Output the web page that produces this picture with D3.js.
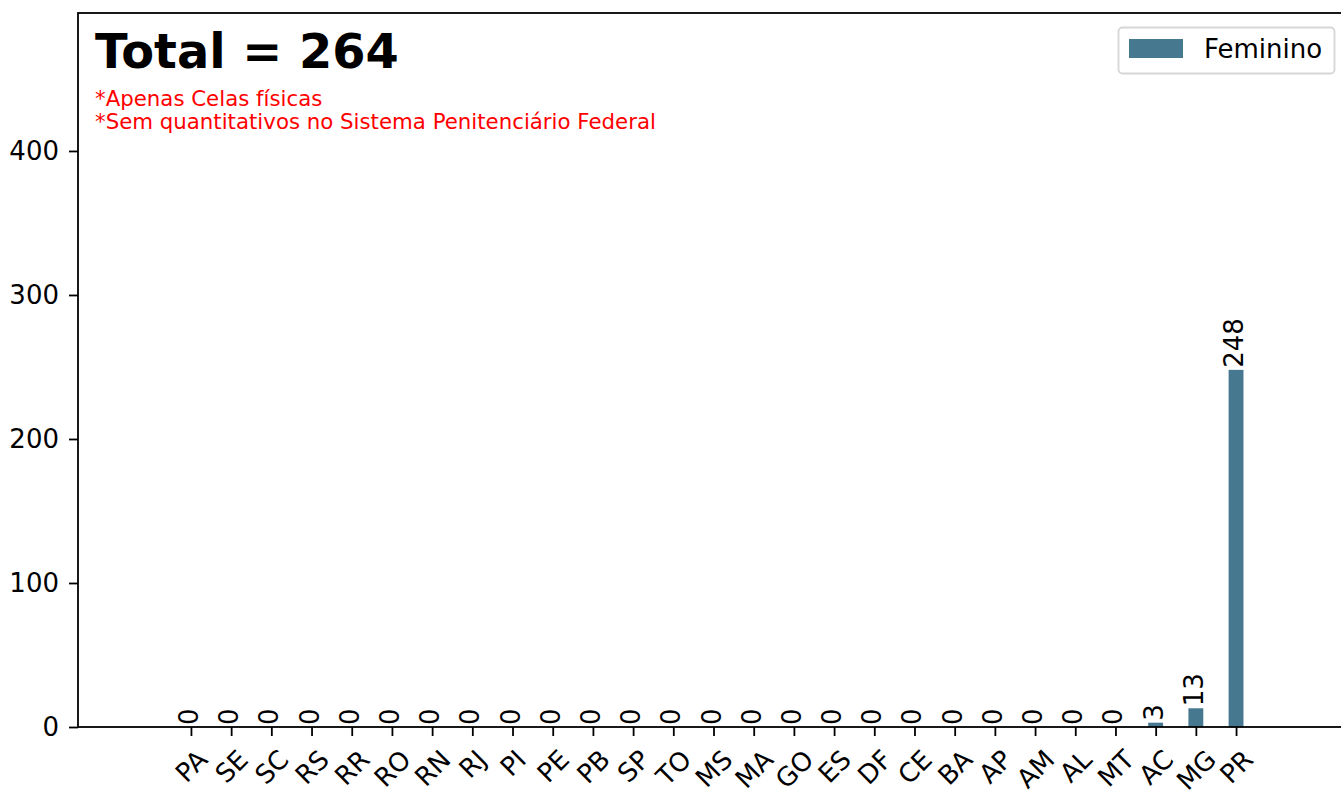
<!DOCTYPE html>
<html>
<head>
<meta charset="utf-8">
<script src="https://cdn.jsdelivr.net/npm/d3@7"></script>
<style>
  body { margin: 0; background: #fff; }
  svg { display: block; font-family: "DejaVu Sans", sans-serif; }
</style>
</head>
<body>
<div id="graphicContainer"></div>
<script>

// chart values
const estados = ["PA", "SE", "SC", "RS", "RR", "RO", "RN", "RJ", "PI", "PE", "PB", "SP", "TO", "MS",
                 "MA", "GO", "ES", "DF", "CE", "BA", "AP", "AM", "AL", "MT", "AC", "MG", "PR"]
const feminino = [0, 0, 0, 0, 0, 0, 0, 0, 0, 0, 0, 0, 0, 0, 0, 0, 0, 0, 0, 0, 0, 0, 0, 0, 3, 13, 248]
const yTicks = [0, 100, 200, 300, 400]
const serieNome = "Feminino"
const totalTexto = "Total = " + d3.sum(feminino)
const notas = ["*Apenas Celas físicas", "*Sem quantitativos no Sistema Penitenciário Federal"]

const width = 1341
const height = 790
const margin = { left: 78, top: 13, right: 1349, bottom: 727 }
const barColor = "#467890"
const fontSize = 26

const svg = d3.select("#graphicContainer").append("svg")
  .attr("width", width)
  .attr("height", height)

const x = d3.scaleLinear()
  .domain([-2.81, 28.81])
  .range([margin.left, margin.right])

const y = d3.scaleLinear()
  .domain([0, 495.8])
  .range([margin.bottom, margin.top])

const barW = x(0.37) - x(0)

// bars
svg.append("g")
  .selectAll("rect")
  .data(feminino)
  .enter()
  .append("rect")
  .attr("x", (d, i) => x(i) - barW / 2)
  .attr("y", d => y(d))
  .attr("width", barW)
  .attr("height", d => y(0) - y(d))
  .attr("fill", barColor)

// bar labels, rotated
svg.append("g")
  .selectAll("text")
  .data(feminino)
  .enter()
  .append("text")
  .attr("transform", (d, i) => `translate(${x(i) - 2},${y(d) - 2}) rotate(-90)`)
  .attr("text-anchor", "start")
  .attr("dominant-baseline", "central")
  .style("font-size", fontSize + "px")
  .text(d => d)

// y axis
const yAxis = svg.append("g")
  .attr("transform", `translate(${margin.left},0)`)
  .call(d3.axisLeft(y).tickValues(yTicks).tickSize(9).tickPadding(10))

yAxis.selectAll(".tick text")
  .style("font-size", fontSize + "px")
  .style("font-family", "DejaVu Sans")
  .attr("fill", "#000")

// x axis
const xAxis = svg.append("g")
  .attr("transform", `translate(0,${margin.bottom})`)
  .call(d3.axisBottom(x).tickValues(d3.range(estados.length)).tickFormat(i => estados[i]).tickSize(9).tickPadding(8))

xAxis.selectAll(".tick text")
  .style("font-size", fontSize + "px")
  .style("font-family", "DejaVu Sans")
  .attr("fill", "#000")
  .attr("y", null)
  .attr("dy", null)
  .attr("text-anchor", "middle")
  .attr("dominant-baseline", "central")
  .each(function() {
    // matplotlib style: rotated 45, bbox centred under tick
    const w = this.getComputedTextLength()
    const h = fontSize * 0.75
    const cy = 21 + (w + h) / (2 * Math.SQRT2)
    d3.select(this).attr("transform", `translate(0,${cy}) rotate(-45)`)
  })

svg.selectAll(".domain").remove()
svg.selectAll(".tick line").attr("stroke", "#000").attr("stroke-width", 1.8)

// frame
svg.append("rect")
  .attr("x", margin.left)
  .attr("y", margin.top)
  .attr("width", margin.right - margin.left)
  .attr("height", margin.bottom - margin.top)
  .attr("fill", "none")
  .attr("stroke", "#000")
  .attr("stroke-width", 1.8)

// total + notes
svg.append("text")
  .attr("x", 95)
  .attr("y", 68)
  .style("font-size", "47.8px")
  .style("font-weight", "bold")
  .text(totalTexto)

svg.append("g")
  .selectAll("text")
  .data(notas)
  .enter()
  .append("text")
  .attr("x", 95)
  .attr("y", (d, i) => 106 + i * 22.5)
  .attr("fill", "red")
  .style("font-size", "21.3px")
  .text(d => d)

// legend
const legend = svg.append("g")

legend.append("rect")
  .attr("x", 1118.5)
  .attr("y", 27.5)
  .attr("width", 216)
  .attr("height", 46)
  .attr("rx", 4)
  .attr("fill", "#fff")
  .attr("fill-opacity", 0.8)
  .attr("stroke", "#d6d6d6")
  .attr("stroke-width", 1.8)

legend.append("rect")
  .attr("x", 1129)
  .attr("y", 39)
  .attr("width", 54)
  .attr("height", 19)
  .attr("fill", barColor)

legend.append("text")
  .attr("x", 1204)
  .attr("y", 58)
  .style("font-size", fontSize + "px")
  .text(serieNome)

</script>
</body>
</html>
